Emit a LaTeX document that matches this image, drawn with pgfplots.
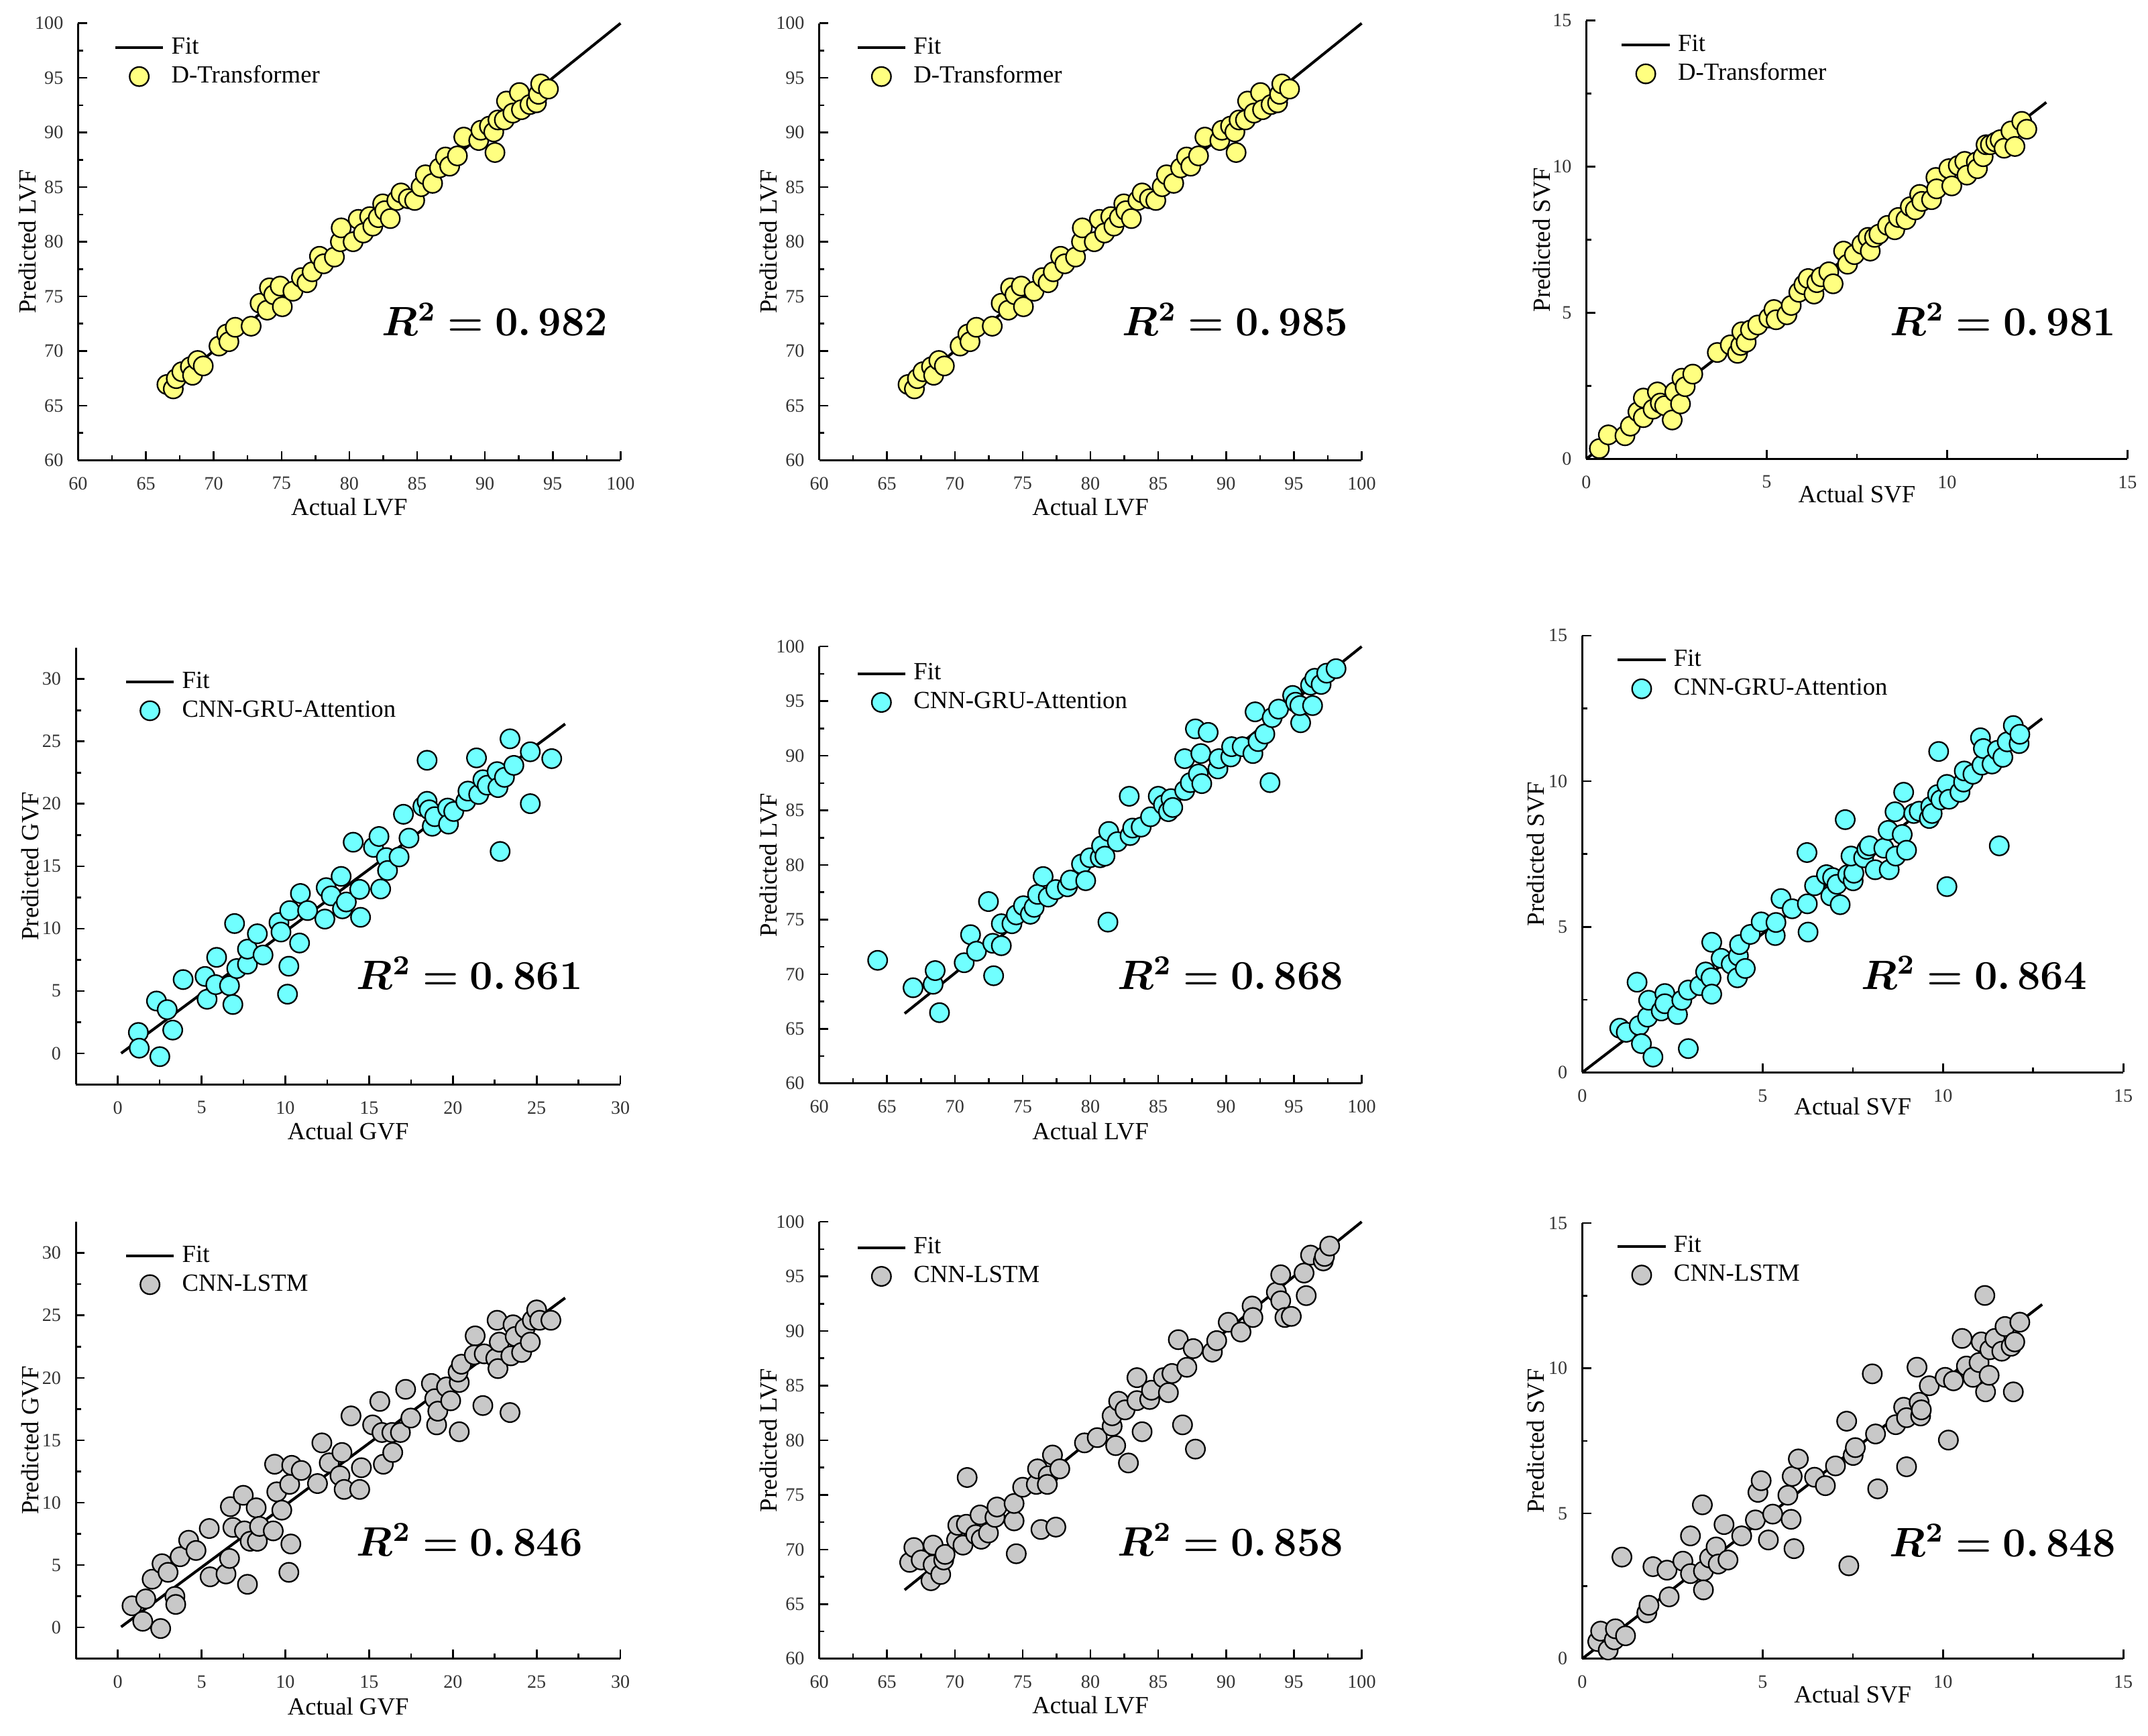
\documentclass[border=0pt]{standalone}
\usepackage[no-math]{fontspec}
\setmainfont{Liberation Serif}
\usepackage{amsmath,bm}
\usepackage{pgfplots}
\pgfplotsset{compat=1.18}
\definecolor{ylw}{RGB}{255,255,128}
\definecolor{cyn}{RGB}{112,255,255}
\definecolor{gry}{RGB}{200,200,200}
\pgfplotsset{
  panel/.style={
    scale only axis, width=158.4pt, height=127.6pt,
    axis x line=bottom, axis y line=left,
    axis line style={-, line width=0.6pt, black},
    tick align=inside, major tick length=2.6pt, minor tick length=1.5pt,
    every tick/.style={black, line width=0.5pt},
    minor tick num=1,
    enlargelimits=false,
    ticklabel style={font=\fontsize{5.5}{6}\selectfont, text=black!80},
    xticklabel style={yshift=-1.4pt},
    yticklabel style={xshift=-0.8pt},
    label style={font=\fontsize{7.2}{8}\selectfont},
    /pgf/number format/assume math mode=true,
    clip=false,
    legend cell align=left,
    legend style={draw=none, fill=none, anchor=north west, inner sep=0pt, outer sep=0pt,
      font=\fontsize{7.2}{8}\selectfont,
      nodes={inner sep=0pt, text height=5pt, text depth=1.4pt},
      row sep=2pt, /tikz/every odd column/.append style={column sep=2pt}},
  },
  fitline/.style={black, line width=0.8pt,
    legend image code/.code={\draw[black,line width=0.8pt] (0pt,0pt) -- (14pt,0pt);}},
  pts/.style={only marks, mark=*, mark size=2.8pt,
    mark options={fill=#1, draw=black, line width=0.45pt},
    legend image code/.code={\draw[mark repeat=2,mark phase=2,##1] plot coordinates {(0pt,0pt)(7pt,0pt)(14pt,0pt)};}},
  lvf/.style={xmin=60,xmax=100,ymin=60,ymax=100,xtick={60,65,...,100},ytick={60,65,...,100}},
  svf/.style={xmin=0,xmax=15,ymin=0,ymax=15,xtick={0,5,10,15},ytick={0,5,10,15}},
  gvf/.style={xmin=-2.5,xmax=30,ymin=-2.5,ymax=32.5,xtick={0,5,...,30},ytick={0,5,...,30}},
}
\newcommand{\rsq}[1]{\fontsize{12}{13}\selectfont$\bm{R^2 = 0.}\,\bm{#1}$}

\pgfplotstableread{
x y
66.55 66.93
67.02 66.53
67.24 67.47
67.65 68.10
68.28 68.56
68.44 67.78
68.82 69.13
69.23 68.63
70.39 70.45
70.96 71.55
71.12 70.85
71.59 72.17
72.76 72.27
73.42 74.37
73.95 73.74
74.11 75.78
74.43 75.15
74.90 75.94
75.06 74.05
75.84 75.47
76.47 76.72
76.88 76.25
77.26 77.25
77.80 78.67
78.11 77.98
78.90 78.60
79.34 80.00
79.40 81.27
80.28 80.00
80.66 82.05
81.04 80.80
81.50 82.30
81.73 81.43
82.14 82.21
82.46 83.47
82.61 82.84
83.02 82.12
83.50 83.78
83.81 84.47
84.35 83.94
84.82 83.78
85.29 85.04
85.61 86.13
86.14 85.35
86.65 86.76
87.09 87.76
87.40 86.92
87.97 87.86
88.44 89.58
89.54 89.27
89.70 90.21
90.33 90.59
90.65 90.05
90.74 88.17
90.96 91.15
91.43 91.15
91.59 92.88
92.06 91.78
92.54 93.66
92.69 92.09
93.32 92.56
93.80 92.72
93.95 93.50
94.11 94.45
94.68 93.98
}\dtlvf

\pgfplotstableread{
x y
0.36 0.35
0.61 0.82
1.07 0.79
1.22 1.12
1.43 1.61
1.58 1.41
1.58 2.08
1.85 1.70
1.97 2.29
2.05 1.91
2.17 1.82
2.38 1.33
2.45 2.29
2.61 1.88
2.65 2.76
2.74 2.47
2.95 2.90
3.63 3.64
3.99 3.90
4.19 3.61
4.28 3.88
4.31 4.35
4.43 3.99
4.55 4.41
4.75 4.58
5.06 4.82
5.20 5.11
5.26 4.76
5.56 4.93
5.68 5.25
5.89 5.70
6.03 5.96
6.15 6.17
6.31 5.64
6.39 6.03
6.51 6.23
6.72 6.40
6.84 5.99
7.13 7.11
7.24 6.66
7.43 6.99
7.64 7.34
7.81 7.58
7.87 7.11
7.99 7.58
8.11 7.69
8.35 7.99
8.55 7.84
8.65 8.26
8.86 8.19
8.98 8.63
9.12 8.52
9.24 9.05
9.30 8.81
9.57 8.87
9.69 9.63
9.71 9.24
10.05 9.93
10.13 9.34
10.31 10.04
10.49 10.18
10.55 9.71
10.81 10.16
10.84 9.93
11.00 10.34
11.08 10.75
11.20 10.75
11.35 10.84
11.47 10.92
11.58 10.63
11.77 11.22
11.88 10.69
12.07 11.55
12.21 11.28
}\dtsvf

\pgfplotstableread{
x y
1.23 1.67
1.28 0.41
2.31 4.19
2.51 -0.27
2.95 3.50
3.28 1.86
3.90 5.91
5.21 6.16
5.33 4.33
5.85 5.50
5.90 7.69
6.67 5.42
6.87 3.91
6.97 10.40
7.10 6.79
7.74 7.14
7.74 8.35
8.33 9.58
8.67 7.88
9.62 10.48
9.74 9.72
10.13 4.74
10.21 6.98
10.26 11.44
10.85 8.84
10.90 12.81
11.33 11.44
12.36 10.76
12.44 13.28
12.74 12.62
13.33 14.18
13.41 11.58
13.64 12.13
14.05 16.92
14.44 13.14
14.49 10.90
15.26 16.51
15.59 17.38
15.69 13.17
16.03 15.69
16.10 14.65
16.79 15.74
17.05 19.16
17.38 17.25
18.21 19.79
18.46 23.49
18.46 20.20
18.59 19.52
18.77 18.20
18.92 18.97
19.69 19.66
19.74 18.37
20.05 19.38
20.77 20.20
20.90 21.02
21.41 23.68
21.54 20.75
21.79 21.93
22.05 21.49
22.64 22.58
22.69 21.30
22.82 16.18
23.08 22.12
23.41 25.21
23.64 23.08
24.62 24.17
24.62 20.01
25.90 23.62
}\cgvf

\pgfplotstableread{
x y
64.31 71.27
66.92 68.76
68.40 69.08
68.55 70.33
68.87 66.48
70.69 71.05
71.16 73.62
71.60 72.11
72.48 76.65
72.80 72.83
72.86 69.86
73.43 72.61
73.43 74.62
74.21 74.62
74.53 75.43
75.06 76.27
75.57 75.49
75.85 76.12
76.10 77.31
76.51 78.94
76.89 77.06
77.45 77.75
78.30 78.00
78.52 78.62
79.34 80.09
79.65 78.56
79.97 80.66
80.72 80.66
80.82 81.75
81.07 80.81
81.29 74.77
81.35 83.07
81.98 82.13
82.92 82.69
82.86 86.29
83.11 83.38
83.74 83.47
84.43 84.41
85.00 86.29
85.38 85.51
85.75 84.88
85.94 86.07
86.07 85.26
86.95 86.82
86.95 89.73
87.36 87.54
87.74 92.46
87.96 88.33
88.14 90.20
88.21 87.45
88.68 92.14
89.40 88.79
89.47 89.73
90.35 89.89
90.41 90.83
91.19 90.83
91.98 90.20
92.14 94.02
92.36 91.30
92.86 91.99
93.24 87.54
93.40 93.49
93.87 94.27
94.91 95.52
95.13 94.90
95.50 93.02
95.44 94.59
96.23 96.46
96.38 94.59
96.54 97.09
97.01 96.53
97.42 97.56
98.11 97.97
}\clvf

\pgfplotstableread{
x y
1.04 1.52
1.22 1.38
1.52 3.10
1.58 1.61
1.64 0.99
1.81 1.90
1.84 2.48
1.96 0.53
2.19 2.11
2.29 2.71
2.29 2.36
2.64 1.99
2.76 2.48
2.94 2.83
2.94 0.82
3.26 2.98
3.42 3.45
3.57 3.25
3.59 2.69
3.59 4.47
3.85 3.92
4.13 3.72
4.30 3.25
4.33 4.00
4.36 4.39
4.52 3.57
4.66 4.74
4.96 5.17
5.35 4.70
5.37 5.15
5.51 5.97
5.82 5.62
6.23 7.55
6.24 5.79
6.26 4.82
6.44 6.41
6.77 6.79
6.89 6.06
6.94 6.69
7.06 6.46
7.15 5.76
7.29 8.68
7.36 6.79
7.51 6.58
7.53 6.84
7.45 7.43
7.80 7.37
7.89 7.66
7.96 7.78
8.12 6.96
8.36 7.70
8.48 8.31
8.51 6.96
8.69 7.43
8.67 8.95
8.87 8.17
8.91 9.62
8.99 7.63
9.19 8.89
9.34 8.97
9.62 8.72
9.66 9.13
9.70 8.89
9.85 9.54
9.88 11.02
9.94 9.36
10.11 9.89
10.11 6.38
10.17 9.38
10.47 9.62
10.57 9.97
10.59 10.35
10.83 10.24
11.04 11.49
11.08 10.55
11.12 11.12
11.36 10.59
11.51 11.06
11.56 7.78
11.66 10.82
11.78 11.35
11.95 11.91
12.11 11.29
12.13 11.61
}\csvf

\pgfplotstableread{
x y
0.85 1.74
1.49 0.50
1.67 2.29
2.05 3.87
2.56 -0.08
2.64 5.11
3.00 4.42
3.41 2.49
3.46 1.85
3.72 5.67
4.23 6.99
4.67 6.17
5.46 7.93
5.51 4.06
6.46 4.29
6.67 5.53
6.72 9.68
6.87 8.02
7.49 10.59
7.56 7.74
7.74 3.46
7.90 6.91
8.26 9.59
8.33 6.91
8.46 8.10
9.28 7.74
9.36 13.08
9.49 10.87
9.79 9.40
10.21 4.42
10.26 11.47
10.33 6.69
10.38 12.99
10.95 12.58
11.92 11.53
12.18 14.79
12.62 13.19
13.26 12.16
13.38 14.02
13.51 11.06
13.92 16.95
14.44 11.06
14.54 12.80
15.21 16.23
15.64 18.11
15.77 15.62
15.85 13.08
16.36 15.62
16.41 14.02
16.87 15.62
17.18 19.08
17.49 16.78
18.72 19.55
18.92 18.33
19.03 16.23
19.10 17.33
19.62 19.27
19.87 18.16
20.38 19.63
20.38 15.68
20.31 20.46
20.51 21.09
21.33 23.36
21.28 21.84
21.79 17.78
21.87 21.92
22.56 21.56
22.64 24.61
22.69 20.74
22.77 22.86
23.41 17.22
23.46 21.76
23.59 24.25
23.72 23.31
24.10 22.03
24.31 23.97
24.62 22.86
24.74 24.61
25.00 25.44
25.18 24.61
25.85 24.61
}\lgvf

\pgfplotstableread{
x y
66.67 68.82
66.98 70.18
67.52 69.04
68.24 67.14
68.40 70.40
68.40 68.60
68.96 67.71
69.18 69.04
69.28 69.55
70.13 70.88
70.22 72.21
70.60 70.40
70.85 72.31
70.91 76.59
71.54 71.36
71.86 73.16
71.95 70.94
72.48 71.51
72.96 72.94
73.11 73.89
74.37 72.62
74.37 74.21
74.53 69.61
75.00 75.70
76.01 75.96
76.10 77.38
76.35 71.83
76.89 76.75
76.82 75.96
77.20 78.65
77.45 72.05
77.74 77.38
79.56 79.76
80.50 80.24
81.60 81.28
81.60 82.24
81.86 79.51
82.08 83.57
82.55 82.78
82.80 77.92
83.43 85.73
83.43 83.63
83.81 80.78
84.37 83.73
84.50 84.58
85.38 85.73
85.75 84.36
86.01 86.11
86.48 89.21
86.79 81.41
87.11 86.68
87.58 88.39
87.74 79.19
88.99 88.07
89.31 89.12
90.16 90.80
91.10 89.91
91.92 92.29
91.98 91.24
93.71 93.56
94.03 92.77
94.03 95.15
94.34 91.24
94.81 91.34
95.75 95.31
95.91 93.24
96.23 96.95
97.17 96.42
97.26 96.83
97.64 97.78
}\llvf

\pgfplotstableread{
x y
0.43 0.59
0.51 0.95
0.72 0.30
0.89 0.65
0.92 1.03
1.20 0.79
1.10 3.50
1.79 1.58
1.85 1.84
1.96 3.17
2.35 3.05
2.41 2.13
2.79 3.36
3.00 4.23
3.00 2.93
3.33 5.30
3.36 3.02
3.36 2.37
3.53 3.47
3.71 3.85
3.77 3.26
4.04 3.40
3.93 4.62
4.42 4.23
4.80 4.78
4.87 5.73
4.96 6.13
5.16 4.09
5.28 4.98
5.70 5.63
5.79 4.80
5.82 6.28
5.87 3.79
5.99 6.88
6.44 6.25
6.74 5.96
7.02 6.64
7.33 8.18
7.39 3.20
7.51 7.00
7.57 7.27
8.04 9.81
8.13 7.74
8.19 5.85
8.69 8.06
8.91 8.66
8.99 6.61
8.99 8.30
9.28 10.04
9.34 8.83
9.38 8.36
9.40 8.57
9.62 9.40
10.06 9.69
10.15 7.53
10.29 9.57
10.53 11.03
10.65 10.08
10.83 9.69
11.00 10.20
11.06 10.91
11.16 12.51
11.18 9.19
11.28 9.76
11.30 10.64
11.44 11.03
11.63 10.59
11.72 11.44
11.89 10.76
11.95 9.19
11.99 10.91
12.13 11.59
}\lsvf

\begin{document}
\begin{tikzpicture}
\path[use as bounding box] (0,0) rectangle (627.2pt,506.8pt);

% ---------- Row 1 ----------
\begin{axis}[panel, lvf, at={(22.8pt,372.4pt)}, anchor=south west,
  xlabel={Actual LVF}, ylabel={Predicted LVF},
  xlabel style={at={(axis description cs:0.5,-0.107)}, anchor=center},
  ylabel style={at={(axis description cs:-0.093,0.5)}, anchor=center},
  legend style={at={(axis description cs:0.066,0.969)}}]
\addplot[fitline] coordinates {(66.5,66.5) (100,100)};
\addlegendentry{Fit}
\addplot[pts=ylw] table[x=x,y=y] {\dtlvf};
\addlegendentry{D-Transformer}
\node at (axis description cs:0.768,0.322) {\rsq{982}};
\end{axis}

\begin{axis}[panel, lvf, at={(239.2pt,372.4pt)}, anchor=south west,
  xlabel={Actual LVF}, ylabel={Predicted LVF},
  xlabel style={at={(axis description cs:0.5,-0.107)}, anchor=center},
  ylabel style={at={(axis description cs:-0.093,0.5)}, anchor=center},
  legend style={at={(axis description cs:0.068,0.969)}}]
\addplot[fitline] coordinates {(66.5,66.5) (100,100)};
\addlegendentry{Fit}
\addplot[pts=ylw] table[x=x,y=y] {\dtlvf};
\addlegendentry{D-Transformer}
\node at (axis description cs:0.767,0.322) {\rsq{985}};
\end{axis}

\begin{axis}[panel, svf, at={(463.2pt,372.8pt)}, anchor=south west, width=158pt, height=128pt,
  xlabel={Actual SVF}, ylabel={Predicted SVF},
  xlabel style={at={(axis description cs:0.5,-0.081)}, anchor=center},
  ylabel style={at={(axis description cs:-0.083,0.5)}, anchor=center},
  legend style={at={(axis description cs:0.063,0.969)}}]
\addplot[fitline] coordinates {(0,0) (12.75,12.2)};
\addlegendentry{Fit}
\addplot[pts=ylw] table[x=x,y=y] {\dtsvf};
\addlegendentry{D-Transformer}
\node at (axis description cs:0.77,0.318) {\rsq{981}};
\end{axis}

% ---------- Row 2 ----------
\begin{axis}[panel, gvf, at={(22.16pt,190.1pt)}, anchor=south west, width=159pt, height=127.5pt,
  xlabel={Actual GVF}, ylabel={Predicted GVF},
  xlabel style={at={(axis description cs:0.5,-0.107)}, anchor=center},
  ylabel style={at={(axis description cs:-0.084,0.5)}, anchor=center},
  legend style={at={(axis description cs:0.0895,0.947)}}]
\addplot[fitline] coordinates {(0.2,0) (26.7,26.4)};
\addlegendentry{Fit}
\addplot[pts=cyn] table[x=x,y=y] {\cgvf};
\addlegendentry{CNN-GRU-Attention}
\node at (axis description cs:0.723,0.255) {\rsq{861}};
\end{axis}

\begin{axis}[panel, lvf, at={(239.2pt,190.4pt)}, anchor=south west,
  xlabel={Actual LVF}, ylabel={Predicted LVF},
  xlabel style={at={(axis description cs:0.5,-0.11)}, anchor=center},
  ylabel style={at={(axis description cs:-0.093,0.5)}, anchor=center},
  legend style={at={(axis description cs:0.068,0.963)}}]
\addplot[fitline] coordinates {(66.3,66.4) (100,100)};
\addlegendentry{Fit}
\addplot[pts=cyn] table[x=x,y=y] {\clvf};
\addlegendentry{CNN-GRU-Attention}
\node at (axis description cs:0.758,0.252) {\rsq{868}};
\end{axis}

\begin{axis}[panel, svf, at={(462pt,193.6pt)}, anchor=south west, width=158pt,
  xlabel={Actual SVF}, ylabel={Predicted SVF},
  xlabel style={at={(axis description cs:0.5,-0.078)}, anchor=center},
  ylabel style={at={(axis description cs:-0.086,0.5)}, anchor=center},
  legend style={at={(axis description cs:0.063,0.969)}}]
\addplot[fitline] coordinates {(0,0) (12.75,12.15)};
\addlegendentry{Fit}
\addplot[pts=cyn] table[x=x,y=y] {\csvf};
\addlegendentry{CNN-GRU-Attention}
\node at (axis description cs:0.724,0.228) {\rsq{864}};
\end{axis}

% ---------- Row 3 ----------
\begin{axis}[panel, gvf, at={(22.16pt,22.4pt)}, anchor=south west, width=159pt,
  xlabel={Actual GVF}, ylabel={Predicted GVF},
  xlabel style={at={(axis description cs:0.5,-0.11)}, anchor=center},
  ylabel style={at={(axis description cs:-0.084,0.5)}, anchor=center},
  legend style={at={(axis description cs:0.0895,0.947)}}]
\addplot[fitline] coordinates {(0.2,0.05) (26.7,26.4)};
\addlegendentry{Fit}
\addplot[pts=gry] table[x=x,y=y] {\lgvf};
\addlegendentry{CNN-LSTM}
\node at (axis description cs:0.723,0.272) {\rsq{846}};
\end{axis}

\begin{axis}[panel, lvf, at={(239.2pt,22.4pt)}, anchor=south west,
  xlabel={Actual LVF}, ylabel={Predicted LVF},
  xlabel style={at={(axis description cs:0.5,-0.107)}, anchor=center},
  ylabel style={at={(axis description cs:-0.093,0.5)}, anchor=center},
  legend style={at={(axis description cs:0.068,0.966)}}]
\addplot[fitline] coordinates {(66.3,66.3) (100,100)};
\addlegendentry{Fit}
\addplot[pts=gry] table[x=x,y=y] {\llvf};
\addlegendentry{CNN-LSTM}
\node at (axis description cs:0.758,0.272) {\rsq{858}};
\end{axis}

\begin{axis}[panel, svf, at={(462pt,22.4pt)}, anchor=south west, width=158pt, height=127.2pt,
  xlabel={Actual SVF}, ylabel={Predicted SVF},
  xlabel style={at={(axis description cs:0.5,-0.082)}, anchor=center},
  ylabel style={at={(axis description cs:-0.086,0.5)}, anchor=center},
  legend style={at={(axis description cs:0.063,0.972)}}]
\addplot[fitline] coordinates {(0,0) (12.75,12.2)};
\addlegendentry{Fit}
\addplot[pts=gry] table[x=x,y=y] {\lsvf};
\addlegendentry{CNN-LSTM}
\node at (axis description cs:0.777,0.272) {\rsq{848}};
\end{axis}
\end{tikzpicture}
\end{document}
